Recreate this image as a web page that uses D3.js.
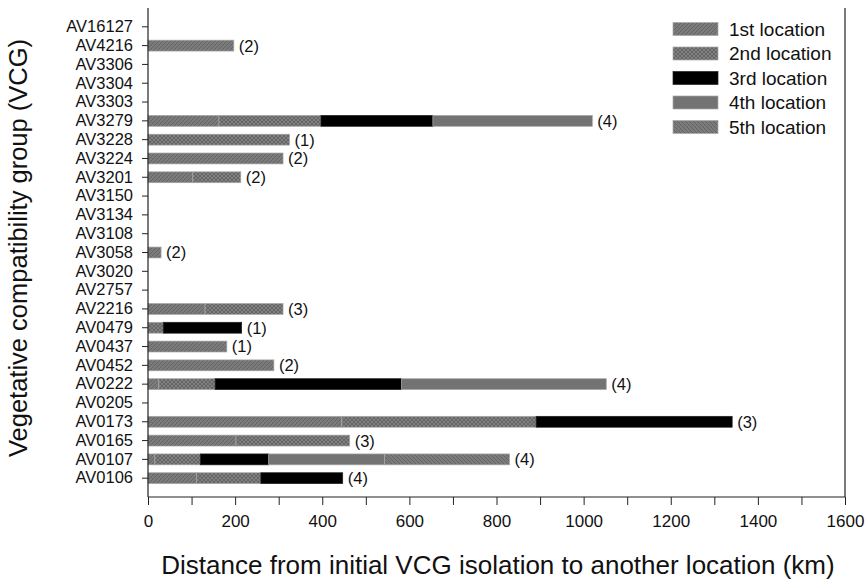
<!DOCTYPE html>
<html><head><meta charset="utf-8">
<script src="https://cdn.jsdelivr.net/npm/d3@7"></script>
<style>body{margin:0;background:#fff}svg{display:block}text{font-family:"Liberation Sans",Arial,sans-serif}</style>
</head><body>
<svg id="c" width="867" height="581"></svg>
<script>
const categories = ["AV16127","AV4216","AV3306","AV3304","AV3303","AV3279","AV3228","AV3224","AV3201","AV3150","AV3134","AV3108","AV3058","AV3020","AV2757","AV2216","AV0479","AV0437","AV0452","AV0222","AV0205","AV0173","AV0165","AV0107","AV0106"];
// segment lengths (km) per location
const loc1 = [0,197,0,0,0,163,0,310,103,0,0,0,30,0,0,131,0,181,289,25,0,445,202,16,112];
const loc2 = [0,0,0,0,0,234,325,0,110,0,0,0,0,0,0,179,35,0,0,129,0,446,261,104,147];
const loc3 = [0,0,0,0,0,257,0,0,0,0,0,0,0,0,0,0,180,0,0,428,0,450,0,157,188];
const loc4 = [0,0,0,0,0,366,0,0,0,0,0,0,0,0,0,0,0,0,0,470,0,0,0,266,0];
const loc5 = [0,0,0,0,0,0,0,0,0,0,0,0,0,0,0,0,0,0,0,0,0,0,0,287,0];
const counts = ["","(2)","","","","(4)","(1)","(2)","(2)","","","","(2)","","","(3)","(1)","(1)","(2)","(4)","","(3)","(3)","(4)","(4)"];
const seriesNames = ["1st location","2nd location","3rd location","4th location","5th location"];
const xTicks = [0,200,400,600,800,1000,1200,1400,1600];
</script>
<script>
(function(){
const svg = d3.select("#c");
const mL = 148, mR = 845, mT = 8, mB = 497;
const x = d3.scaleLinear().domain([0,1600]).range([mL,mR]);
const y = d3.scaleBand().domain(categories).range([mT, mB]).paddingInner(0.42).paddingOuter(0.71);

const defs = svg.append("defs");
function pat(id, paths, bg){
  const p = defs.append("pattern").attr("id",id).attr("patternUnits","userSpaceOnUse").attr("width",4).attr("height",4);
  p.append("rect").attr("width",4).attr("height",4).attr("fill",bg);
  paths.forEach(d=>p.append("path").attr("d",d).attr("stroke","#5e5e5e").attr("stroke-width",0.8).attr("fill","none"));
}
pat("p1",["M-1,1 L1,-1 M0,4 L4,0 M3,5 L5,3"],"#7b7b7b");
pat("p2",["M-1,1 L1,-1 M0,4 L4,0 M3,5 L5,3","M-1,3 L1,5 M0,0 L4,4 M3,-1 L5,1"],"#808080");
pat("p5",["M-1,3 L1,5 M0,0 L4,4 M3,-1 L5,1"],"#7b7b7b");
const fills = ["url(#p1)","url(#p2)","#000","#737373","url(#p5)"];

const series = [loc1,loc2,loc3,loc4,loc5];
const data = categories.map((c,i)=>{
  let acc=0; const segs=[];
  series.forEach((s,k)=>{ const v=s[i]; if(v>0){segs.push({k,x0:acc,x1:acc+v});} acc+=v; });
  return {c,segs,total:acc,label:counts[i]};
});

const g = svg.append("g");
data.forEach(d=>{
  d.segs.forEach(s=>{
    g.append("rect").attr("x",x(s.x0)).attr("y",y(d.c)).attr("width",x(s.x1)-x(s.x0)).attr("height",y.bandwidth())
      .attr("fill",fills[s.k]).attr("stroke", s.k===2?"#222":"#a8a8a8").attr("stroke-width",0.7);
  });
  if(d.label) g.append("text").attr("x",x(d.total)+5).attr("y",y(d.c)+y.bandwidth()/2).attr("dy","0.36em")
     .attr("font-size",16.5).attr("fill","#111").text(d.label);
});

// axes
const yAxis = d3.axisLeft(y).tickSize(6).tickPadding(9);
const ya = svg.append("g").attr("transform",`translate(${mL},0)`).call(yAxis);
ya.select(".domain").remove();
ya.selectAll("text").attr("font-size",16.5).attr("fill","#111");
ya.selectAll("line").attr("stroke","#222");
svg.append("line").attr("x1",mL).attr("x2",mL).attr("y1",mT).attr("y2",mB).attr("stroke","#222").attr("stroke-width",1.2);
svg.append("line").attr("x1",mR).attr("x2",mR).attr("y1",mT).attr("y2",mB).attr("stroke","#222").attr("stroke-width",1.2);

const xAxis = d3.axisBottom(x).tickValues(d3.range(0,1601,100)).tickSize(8).tickPadding(10)
  .tickFormat(v=> xTicks.includes(v)? String(v): "");
const xa = svg.append("g").attr("transform",`translate(0,${mB})`).call(xAxis);
xa.select(".domain").attr("d",`M${mL},0H${mR}`).attr("stroke","#222").attr("stroke-width",1.2);
xa.selectAll("text").attr("font-size",17).attr("fill","#111");
xa.selectAll("line").attr("stroke","#222");

svg.append("text").attr("x",498).attr("y",574).attr("text-anchor","middle").attr("font-size",26).attr("fill","#111")
  .text("Distance from initial VCG isolation to another location (km)");
svg.append("text").attr("transform",`translate(27,248) rotate(-90)`).attr("text-anchor","middle").attr("font-size",25.5).attr("fill","#111")
  .text("Vegetative compatibility group (VCG)");

// legend
const lg = svg.append("g");
seriesNames.forEach((n,i)=>{
  const yy = 29 + i*24.5;
  lg.append("rect").attr("x",673).attr("y",yy-6.5).attr("width",45).attr("height",13).attr("fill",fills[i]).attr("stroke",i===2?"#222":"#a8a8a8").attr("stroke-width",0.7);
  lg.append("text").attr("x",729).attr("y",yy).attr("dy","0.36em").attr("font-size",19).attr("fill","#111").text(n);
});
})();
</script>
</body></html>
